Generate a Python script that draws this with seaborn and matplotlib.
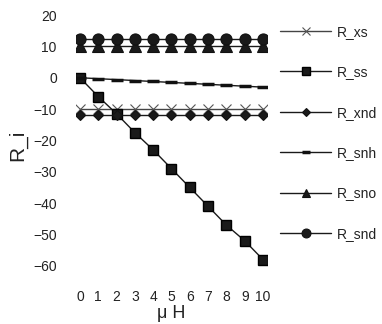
import matplotlib
matplotlib.use("Agg")
import matplotlib.pyplot as plt
import seaborn as sns
import pandas as pd

sns.set_theme(style="white")
plt.rcParams['font.family'] = ['Liberation Sans', 'DejaVu Sans']

mu_h = [0, 1, 2, 3, 4, 5, 6, 7, 8, 9, 10]
R_xs = [-10, -10, -10, -10, -10, -10, -10, -10, -10, -10, -10]
R_ss = [0, -6, -11.5, -17.5, -23, -29, -35, -41, -47, -52, -58]
R_xnd = [-12, -12, -12, -12, -12, -12, -12, -12, -12, -12, -12]
R_snh = [0, -0.3, -0.6, -0.9, -1.2, -1.5, -1.8, -2.1, -2.4, -2.7, -3]
R_sno = [10, 10, 10, 10, 10, 10, 10, 10, 10, 10, 10]
R_snd = [12.3, 12.3, 12.3, 12.3, 12.3, 12.3, 12.3, 12.3, 12.3, 12.3, 12.3]
y_ticks = [20, 10, 0, -10, -20, -30, -40, -50, -60]

series = [
    ("R_xs", R_xs, dict(marker='x', markersize=7, markeredgewidth=0.8, color='#444444', markeredgecolor='#555555')),
    ("R_ss", R_ss, dict(marker='s', markersize=7, markeredgewidth=1.0, color='#1a1a1a', markeredgecolor='#000000')),
    ("R_xnd", R_xnd, dict(marker='D', markersize=5, markeredgewidth=0.8, color='#1a1a1a', markeredgecolor='#111111')),
    ("R_snh", R_snh, dict(marker='_', markersize=8, markeredgewidth=2.5, color='#1a1a1a', markeredgecolor='#111111')),
    ("R_sno", R_sno, dict(marker='^', markersize=8, markeredgewidth=0.8, color='#1a1a1a', markeredgecolor='#111111')),
    ("R_snd", R_snd, dict(marker='o', markersize=8, markeredgewidth=0.8, color='#1a1a1a', markeredgecolor='#111111')),
]

fig = plt.figure(figsize=(3.82, 3.24), dpi=100)
ax = fig.add_axes([0.1997, 0.131, 0.4984, 0.842])

for name, vals, kw in series:
    df = pd.DataFrame({"x": mu_h, "y": vals})
    sns.lineplot(data=df, x="x", y="y", ax=ax, label=name, linewidth=1.0, **kw)

ax.set_xlim(-0.2, 10.2)
ax.set_ylim(-65, 22)
ax.set_xticks(mu_h)
ax.set_yticks(y_ticks)
for s in ax.spines.values():
    s.set_visible(False)
ax.tick_params(axis='both', length=0, labelsize=10, labelcolor='#222222')
ax.tick_params(axis='y', pad=14)
ax.tick_params(axis='x', pad=6)
ax.set_xlabel("μ H", fontsize=13, color='#222222', labelpad=1)
ax.set_ylabel("R_i", fontsize=15, color='#222222', labelpad=4)

ax.legend(loc='upper left', bbox_to_anchor=(0.733, 0.923), bbox_transform=fig.transFigure,
          frameon=False, fontsize=10, handlelength=3.7, handletextpad=0.4,
          labelspacing=1.9, borderpad=0, borderaxespad=0, labelcolor='#222222',
          markerscale=0.8)

fig.savefig("out.png", dpi=100, facecolor='white')
